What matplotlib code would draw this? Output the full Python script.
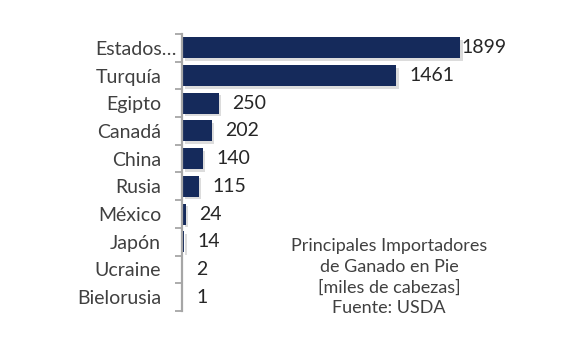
import matplotlib
matplotlib.use('Agg')
import matplotlib.pyplot as plt
import matplotlib.patheffects as pe
from matplotlib.transforms import ScaledTranslation

# datos: principales importadores de ganado en pie (miles de cabezas)
paises = ['Estados…', 'Turquía', 'Egipto', 'Canadá', 'China',
          'Rusia', 'México', 'Japón', 'Ucraine', 'Bielorusia']
cabezas = [1899, 1461, 250, 202, 140, 115, 24, 14, 2, 1]
nota = 'Principales Importadores\nde Ganado en Pie\n[miles de cabezas]\nFuente: USDA'

plt.rcParams['font.family'] = ['Lato', 'DejaVu Sans']

W, H = 581, 356
fig = plt.figure(figsize=(W / 100, H / 100), dpi=100)
ax = fig.add_axes([182 / W, 1 - 311 / H, (475 - 182) / W, (311 - 34) / H])

pos = list(range(len(paises)))
barras = ax.barh(pos, cabezas, height=0.76, color='#152a5b')
for b in barras:
    b.set_path_effects([pe.SimplePatchShadow(offset=(1.8, -1.8), shadow_rgbFace='#8c8c8c', alpha=0.3),
                        pe.Normal()])

ax.set_xlim(0, 2000)
ax.set_ylim(len(paises) - 0.5, -0.5)

# etiquetas de valor
for i, v in enumerate(cabezas):
    gap = 1 if v == max(cabezas) else 10
    ax.annotate(str(v), (v, i), xytext=(gap, 0), textcoords='offset points',
                va='center', ha='left', fontsize=14, color='#262626')

ax.set_yticks(pos)
ax.set_yticklabels(paises, fontsize=14, color='#404040')
# marcas en los limites de categoria, como en Excel
ax.set_yticks([p + 0.5 for p in range(-1, len(paises))], minor=True)
ax.tick_params(axis='y', which='major', length=0, pad=15)
ax.tick_params(axis='y', which='minor', length=5, width=1.3, color='#a6a6a6')
ax.get_yticklabels()[0].set_transform(ax.get_yticklabels()[0].get_transform()
                                      + ScaledTranslation(0.15, 0, fig.dpi_scale_trans))
ax.set_xticks([])
for s in ['top', 'right', 'bottom']:
    ax.spines[s].set_visible(False)
ax.spines['left'].set_color('#a6a6a6')
ax.spines['left'].set_linewidth(1.6)

fig.text(389 / W, 1 - 277 / H, nota, ha='center', va='center',
         fontsize=13, color='#404040', linespacing=1.35)

fig.savefig('out.png', dpi=100)
